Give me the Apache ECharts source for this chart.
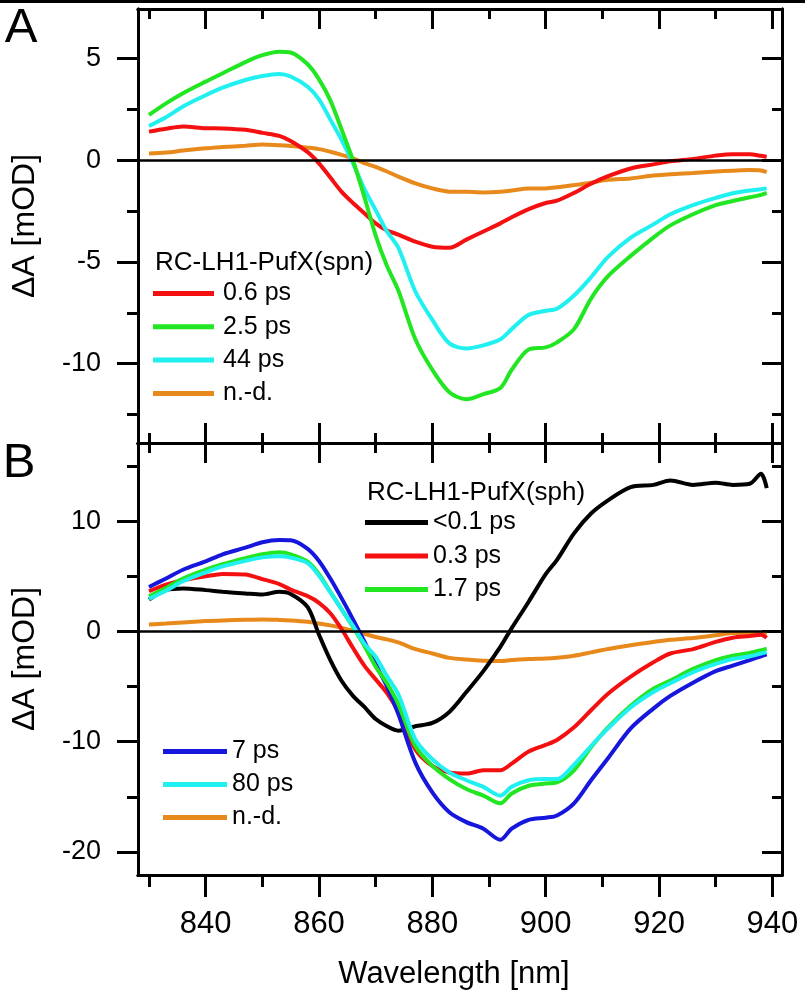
<!DOCTYPE html>
<html>
<head>
<meta charset="utf-8">
<script src="https://cdn.jsdelivr.net/npm/echarts@6/dist/echarts.min.js"></script>
<style>
html,body{margin:0;padding:0;background:#fff}
#chart{width:805px;height:998px}
</style>
</head>
<body>
<div id="chart"></div>
<script>
// wavelength grid (nm)
var wl = [830,833,836,840,843,847,850,853,855,858, 860,862,864,866,868,870,872,874,877,880,
          883,886,889,892,894,897,900,902,905,908, 911,915,919,922,926,930,933,936,938,939];

// panel A : RC-LH1-PufX(spn)
var aRed = [1.41,1.55,1.66,1.58,1.57,1.5,1.35,1.2,0.95,0.4, -0.15,-0.85,-1.55,-2.1,-2.6,-3.1,-3.45,-3.65,-4.0,-4.25,
            -4.3,-3.9,-3.5,-3.1,-2.8,-2.4,-2.1,-1.98,-1.6,-1.15, -0.78,-0.4,-0.2,-0.05,0.07,0.23,0.3,0.3,0.22,0.18];
var aGreen = [2.23,2.8,3.3,3.87,4.28,4.83,5.17,5.34,5.3,4.72, 3.98,2.95,1.5,0.0,-1.8,-3.7,-5.2,-6.4,-8.8,-10.3,
              -11.4,-11.75,-11.5,-11.2,-10.3,-9.3,-9.2,-8.95,-8.3,-6.8, -5.7,-4.7,-3.8,-3.2,-2.65,-2.2,-2.0,-1.82,-1.7,-1.6];
var aCyan = [1.69,2.12,2.65,3.2,3.57,3.95,4.15,4.25,4.12,3.62, 3.0,2.0,1.0,-0.15,-1.4,-2.45,-3.5,-4.3,-6.45,-7.85,
             -9.0,-9.25,-9.1,-8.8,-8.3,-7.6,-7.4,-7.3,-6.65,-5.75, -4.75,-3.8,-3.15,-2.65,-2.2,-1.85,-1.62,-1.48,-1.42,-1.38];
var aOrange = [0.34,0.38,0.48,0.59,0.65,0.72,0.78,0.74,0.7,0.62, 0.55,0.42,0.27,0.1,-0.14,-0.32,-0.55,-0.8,-1.13,-1.38,
               -1.54,-1.55,-1.58,-1.55,-1.48,-1.38,-1.38,-1.33,-1.22,-1.1, -0.96,-0.89,-0.75,-0.68,-0.62,-0.55,-0.51,-0.48,-0.5,-0.58];

// panel B : RC-LH1-PufX(sph)
var bBlack = [2.9,3.75,3.9,3.75,3.6,3.45,3.35,3.6,3.4,2.2, -0.3,-2.6,-4.5,-5.85,-6.85,-7.95,-8.6,-9.0,-8.6,-8.3,
              -7.3,-5.5,-3.6,-1.4,0.3,2.7,5.2,6.5,8.9,10.7, 11.9,13.1,13.3,13.7,13.3,13.5,13.3,13.4,14.3,13.0];
var bRed = [3.65,4.25,4.65,5.0,5.22,5.16,4.75,4.3,3.8,3.2, 2.6,1.65,0.2,-1.5,-3.1,-4.35,-5.6,-7.3,-10.7,-12.2,
            -12.8,-12.9,-12.6,-12.6,-12.0,-10.9,-10.3,-9.85,-8.7,-7.15, -5.65,-4.1,-2.8,-2.0,-1.6,-0.95,-0.57,-0.42,-0.3,-0.57];
var bGreen = [3.2,3.95,4.8,5.6,6.1,6.65,7.0,7.18,7.0,6.33, 5.2,3.6,2.0,0.4,-1.3,-3.2,-4.7,-6.6,-10.4,-12.2,
              -13.4,-14.3,-14.9,-15.6,-14.7,-14.0,-13.8,-13.7,-12.6,-10.5, -8.7,-6.75,-5.2,-4.45,-3.4,-2.6,-2.2,-1.95,-1.7,-1.57];
var bCyan = [2.96,3.7,4.55,5.37,5.9,6.4,6.72,6.82,6.7,6.2, 5.05,3.55,2.0,0.5,-1.1,-2.3,-4.05,-5.7,-9.8,-11.6,
             -12.8,-13.5,-14.1,-14.9,-14.1,-13.5,-13.4,-13.4,-12.1,-10.4, -8.8,-6.9,-5.5,-4.7,-3.7,-2.95,-2.5,-2.25,-2.0,-1.87];
var bBlue = [4.04,4.8,5.6,6.36,7.0,7.6,8.1,8.3,8.27,7.5, 6.4,4.8,3.0,1.1,-0.9,-3.0,-5.0,-7.5,-11.9,-14.6,
             -16.4,-17.3,-17.9,-18.9,-17.9,-17.1,-16.9,-16.7,-15.6,-13.5, -11.5,-8.8,-7.0,-5.85,-4.65,-3.6,-3.1,-2.6,-2.25,-2.08];
var bOrange = [0.63,0.72,0.82,0.94,1.0,1.06,1.09,1.05,1.0,0.87, 0.72,0.55,0.32,0.05,-0.22,-0.5,-0.72,-1.0,-1.6,-2.0,
               -2.4,-2.55,-2.65,-2.68,-2.6,-2.5,-2.45,-2.38,-2.2,-1.9, -1.6,-1.25,-0.95,-0.75,-0.6,-0.35,-0.15,-0.12,-0.15,-0.27];

// ticks
var xMajor = [840,860,880,900,920,940];
var xMinor = [830,850,870,890,910,930];
var aMajor = [-10,-5,0,5];
var aMinor = [-12.5,-7.5,-2.5,2.5];
var bMajor = [-20,-10,0,10];
var bMinor = [-15,-5,5,15];

var FONT = '"Liberation Sans", Arial, sans-serif';
var xMin = 828.06, xMax = 941.7;

function pairs(v) {
  var out = [];
  for (var i = 0; i < wl.length; i++) out.push([wl[i], v[i]]);
  return out;
}

function xAx(grid, pos, ticks, len, inside, labels) {
  return {
    type: 'value', gridIndex: grid, position: pos, min: xMin, max: xMax,
    splitLine: {show: false},
    axisLine: {show: true, onZero: false, lineStyle: {color: '#000', width: 3}},
    axisTick: {show: true, inside: inside, length: len, customValues: ticks, lineStyle: {color: '#000', width: 3}},
    axisLabel: labels ? {show: true, customValues: ticks, margin: 34, color: '#000', fontSize: 31, fontFamily: FONT} : {show: false}
  };
}
function yAx(grid, pos, mn, mx, ticks, len, inside, labels) {
  return {
    type: 'value', gridIndex: grid, position: pos, min: mn, max: mx,
    splitLine: {show: false},
    axisLine: {show: true, onZero: false, lineStyle: {color: '#000', width: 3}},
    axisTick: {show: true, inside: inside, length: len, customValues: ticks, lineStyle: {color: '#000', width: 3}},
    axisLabel: labels ? {show: true, customValues: ticks, margin: 37, color: '#000', fontSize: 27, fontFamily: FONT} : {show: false}
  };
}

var xAxes = [
  xAx(0, 'bottom', xMajor, 20, true, false),
  xAx(0, 'bottom', xMinor, 10, true, false),
  xAx(0, 'top', xMajor, 20, true, false),
  xAx(0, 'top', xMinor, 10, true, false),
  xAx(1, 'bottom', xMajor, 22, false, true),
  xAx(1, 'bottom', xMinor, 12, false, false),
  xAx(1, 'top', xMajor, 20, true, false),
  xAx(1, 'top', xMinor, 10, true, false)
];
xAxes[4].name = 'Wavelength [nm]';
xAxes[4].nameLocation = 'middle';
xAxes[4].nameGap = 84;
xAxes[4].nameTextStyle = {fontSize: 31, fontFamily: FONT, color: '#000', padding: [0, 12, 0, 0]};

var yAxes = [
  yAx(0, 'left', -13.9, 7.44, aMajor, 21, false, true),
  yAx(0, 'left', -13.9, 7.44, aMinor, 11, false, false),
  yAx(0, 'right', -13.9, 7.44, aMajor, 20, true, false),
  yAx(0, 'right', -13.9, 7.44, aMinor, 10, true, false),
  yAx(1, 'left', -22.1, 17.1, bMajor, 21, false, true),
  yAx(1, 'left', -22.1, 17.1, bMinor, 11, false, false),
  yAx(1, 'right', -22.1, 17.1, bMajor, 20, true, false),
  yAx(1, 'right', -22.1, 17.1, bMinor, 10, true, false)
];
[0, 4].forEach(function (i) {
  yAxes[i].name = '\u0394A [mOD]';
  yAxes[i].nameLocation = 'middle';
  yAxes[i].nameGap = 97;
  yAxes[i].nameTextStyle = {fontSize: 32, fontFamily: FONT, color: '#000'};
});

var zeroLine = {
  silent: true, symbol: 'none', label: {show: false},
  lineStyle: {color: '#000', width: 2.5, type: 'solid'},
  data: [{yAxis: 0}]
};

function line(name, vals, color, xi, yi, mark) {
  var s = {
    name: name, type: 'line', xAxisIndex: xi, yAxisIndex: yi,
    data: pairs(vals), showSymbol: false, symbol: 'none', smooth: 0.3,
    lineStyle: {color: color, width: 4}, itemStyle: {color: color}
  };
  if (mark) s.markLine = zeroLine;
  return s;
}

var RED = '#f41010', GREEN = '#22e622', CYAN = '#20f0f0', ORANGE = '#e8891c', BLUE = '#1616dc', BLACK = '#000';

var series = [
  line('A n.-d.', aOrange, ORANGE, 0, 0, true),
  line('0.6 ps', aRed, RED, 0, 0),
  line('44 ps', aCyan, CYAN, 0, 0),
  line('2.5 ps', aGreen, GREEN, 0, 0),
  line('B n.-d.', bOrange, ORANGE, 4, 4, true),
  line('<0.1 ps', bBlack, BLACK, 4, 4),
  line('0.3 ps', bRed, RED, 4, 4),
  line('7 ps', bBlue, BLUE, 4, 4),
  line('1.7 ps', bGreen, GREEN, 4, 4),
  line('80 ps', bCyan, CYAN, 4, 4)
];

function legend(names, left, top, w, gap, pad) {
  return {
    data: names, orient: 'vertical', left: left, top: top, padding: 0,
    icon: 'rect', itemWidth: w, itemHeight: 5, itemGap: gap, selectedMode: false,
    textStyle: {fontSize: 25, lineHeight: 25, fontFamily: FONT, color: '#000', padding: [0, 0, 0, pad]},
    formatter: function (n) { return n.replace(/^[AB] /, ''); }
  };
}

var chart = echarts.init(document.getElementById('chart'));
chart.setOption({
  animation: false,
  backgroundColor: '#fff',
  grid: [
    {left: 138, top: 9, width: 644, height: 434},
    {left: 138, top: 443, width: 644, height: 432}
  ],
  xAxis: xAxes,
  yAxis: yAxes,
  legend: [
    legend(['0.6 ps', '2.5 ps', '44 ps', 'A n.-d.'], 153, 281, 61, 8.3, 4),
    legend(['<0.1 ps', '0.3 ps', '1.7 ps'], 365, 510, 63, 8.5, 0),
    legend(['7 ps', '80 ps', 'B n.-d.'], 163, 739, 64, 8, 0)
  ],
  graphic: [
    {type: 'rect', shape: {x: 0, y: 0, width: 805, height: 3}, style: {fill: '#000'}},
    {type: 'text', x: 21, y: 28, style: {text: 'A', font: '49px ' + FONT, fill: '#000', align: 'center', verticalAlign: 'middle'}},
    {type: 'text', x: 19, y: 463, style: {text: 'B', font: '49px ' + FONT, fill: '#000', align: 'center', verticalAlign: 'middle'}},
    {type: 'text', x: 155, y: 263, style: {text: 'RC-LH1-PufX(spn)', font: '26px ' + FONT, fill: '#000', verticalAlign: 'middle'}},
    {type: 'text', x: 367, y: 493, style: {text: 'RC-LH1-PufX(sph)', font: '26px ' + FONT, fill: '#000', verticalAlign: 'middle'}}
  ],
  series: series
});
</script>
</body>
</html>
